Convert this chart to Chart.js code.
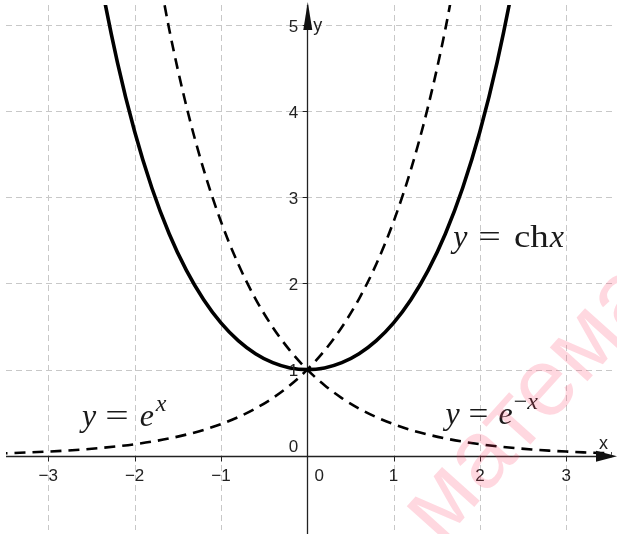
<!DOCTYPE html>
<html>
<head>
<meta charset="utf-8">
<script src="https://cdn.jsdelivr.net/npm/chart.js@4.4.0/dist/chart.umd.min.js"></script>
<style>
  body { margin: 0; background: #fff; }
  #wrap { width: 617px; height: 534px; position: relative; }
</style>
</head>
<body>
<div id="wrap"><canvas id="chart"></canvas></div>
<script>
// values
const expX = [-3.6, -3.4, -3.2, -3.0, -2.8, -2.6, -2.4, -2.2, -2.0, -1.8, -1.6, -1.4, -1.2, -1.0,
  -0.8, -0.6, -0.4, -0.2, 0, 0.2, 0.4, 0.6, 0.8, 1.0, 1.2, 1.4, 1.6, 1.8];
const expY = [0.027, 0.033, 0.041, 0.050, 0.061, 0.074, 0.091, 0.111, 0.135, 0.165, 0.202, 0.247,
  0.301, 0.368, 0.449, 0.549, 0.670, 0.819, 1.0, 1.221, 1.492, 1.822, 2.226, 2.718, 3.320, 4.055, 4.953, 6.050];

const expNegX = [-1.8, -1.6, -1.4, -1.2, -1.0, -0.8, -0.6, -0.4, -0.2, 0, 0.2, 0.4, 0.6, 0.8, 1.0,
  1.2, 1.4, 1.6, 1.8, 2.0, 2.2, 2.4, 2.6, 2.8, 3.0, 3.2, 3.4, 3.6];
const expNegY = [6.050, 4.953, 4.055, 3.320, 2.718, 2.226, 1.822, 1.492, 1.221, 1.0, 0.819, 0.670,
  0.549, 0.449, 0.368, 0.301, 0.247, 0.202, 0.165, 0.135, 0.111, 0.091, 0.074, 0.061, 0.050, 0.041, 0.033, 0.027];

const chX = [-2.6, -2.4, -2.2, -2.0, -1.8, -1.6, -1.4, -1.2, -1.0, -0.8, -0.6, -0.4, -0.2, 0,
  0.2, 0.4, 0.6, 0.8, 1.0, 1.2, 1.4, 1.6, 1.8, 2.0, 2.2, 2.4, 2.6];
const chY = [6.769, 5.557, 4.568, 3.762, 3.107, 2.577, 2.151, 1.811, 1.543, 1.337, 1.185, 1.081, 1.020, 1.0,
  1.020, 1.081, 1.185, 1.337, 1.543, 1.811, 2.151, 2.577, 3.107, 3.762, 4.568, 5.557, 6.769];

const xTicks = [-3, -2, -1, 1, 2, 3];
const yTicks = [1, 2, 3, 4, 5];
const xTickLabels = ["\u22123", "\u22122", "\u22121", "1", "2", "3"];
const yTickLabels = ["1", "2", "3", "4", "5"];

const toPts = (xs, ys) => xs.map((x, i) => ({ x: x, y: ys[i] }));

const SANS = '"Liberation Sans", Arial, sans-serif';
const SERIF = '"Liberation Serif", "Times New Roman", serif';

// draws a formula piece by piece (italic letters, upright operators, superscripts)
function drawMath(ctx, parts, x, y) {
  let cx = x;
  parts.forEach((p) => {
    const k = p.sx || 1;
    ctx.font = p.font;
    ctx.save();
    ctx.translate(cx, y - (p.up || 0));
    ctx.scale(k, 1);
    ctx.fillText(p.t, 0, 0);
    ctx.restore();
    cx += ctx.measureText(p.t).width * k + (p.post || 0);
  });
}

// grid, axes, labels
const axesPlugin = {
  id: "axes",
  beforeDatasetsDraw(chart) {
    const { ctx, chartArea: a, scales } = chart;
    const sx = scales.x, sy = scales.y;
    ctx.save();
    ctx.strokeStyle = "#c8c8c8";
    ctx.lineWidth = 1;
    ctx.setLineDash([6, 4]);
    xTicks.forEach((v) => {
      const px = Math.round(sx.getPixelForValue(v)) + 0.5;
      ctx.beginPath(); ctx.moveTo(px, a.top); ctx.lineTo(px, a.bottom); ctx.stroke();
    });
    yTicks.forEach((v) => {
      const py = Math.round(sy.getPixelForValue(v)) + 0.5;
      ctx.beginPath(); ctx.moveTo(a.left, py); ctx.lineTo(a.right, py); ctx.stroke();
    });
    ctx.setLineDash([]);

    // axes
    const x0 = Math.round(sx.getPixelForValue(0)) + 0.5;
    const y0 = Math.round(sy.getPixelForValue(0)) + 0.5;
    ctx.strokeStyle = "#222";
    ctx.lineWidth = 1.3;
    ctx.beginPath(); ctx.moveTo(a.left, y0); ctx.lineTo(a.right, y0); ctx.stroke();
    ctx.beginPath(); ctx.moveTo(x0, a.bottom + 4); ctx.lineTo(x0, a.top); ctx.stroke();

    // tick marks
    ctx.lineWidth = 1;
    xTicks.forEach((v) => {
      const px = Math.round(sx.getPixelForValue(v)) + 0.5;
      ctx.beginPath(); ctx.moveTo(px, y0); ctx.lineTo(px, y0 + 5); ctx.stroke();
    });
    yTicks.forEach((v) => {
      const py = Math.round(sy.getPixelForValue(v)) + 0.5;
      ctx.beginPath(); ctx.moveTo(x0 - 5, py); ctx.lineTo(x0, py); ctx.stroke();
    });
    ctx.restore();
  },
  afterDraw(chart) {
    const { ctx, scales } = chart;
    const sx = scales.x, sy = scales.y;
    const x0 = sx.getPixelForValue(0), y0 = sy.getPixelForValue(0);
    ctx.save();

    // arrows
    ctx.fillStyle = "#111";
    ctx.beginPath();
    ctx.moveTo(617, y0 + 0.5); ctx.lineTo(596, y0 - 5); ctx.lineTo(596, y0 + 6); ctx.closePath(); ctx.fill();
    ctx.beginPath();
    ctx.moveTo(x0 + 0.5, 2); ctx.lineTo(x0 - 4, 30); ctx.lineTo(x0 + 5, 30); ctx.closePath(); ctx.fill();

    // tick labels
    ctx.fillStyle = "#222";
    ctx.font = "17px " + SANS;
    ctx.textAlign = "center";
    ctx.textBaseline = "middle";
    xTicks.forEach((v, i) => {
      ctx.fillText(xTickLabels[i], sx.getPixelForValue(v), y0 + 20);
    });
    ctx.fillText("0", x0 + 12, y0 + 20);
    ctx.textAlign = "right";
    yTicks.forEach((v, i) => {
      ctx.fillText(yTickLabels[i], x0 - 9, sy.getPixelForValue(v) + 2);
    });
    ctx.fillText("0", x0 - 9, y0 - 9);

    // axis names
    ctx.textAlign = "left";
    ctx.font = "18px " + SANS;
    ctx.fillText("y", x0 + 6, 26);
    ctx.fillText("x", 599, y0 - 12);

    // curve labels
    ctx.fillStyle = "#1a1a1a";
    ctx.textBaseline = "alphabetic";
    const it = "italic 32px " + SERIF, rm = "32px " + SERIF;
    const sup = "italic 24px " + SERIF, supRm = "24px " + SERIF;
    drawMath(ctx, [
      { t: "y", font: it, post: 11 },
      { t: "=", font: rm, sx: 1.25, post: 13 },
      { t: "ch", font: rm, sx: 1.15, post: 1 },
      { t: "x", font: it }
    ], sx.getPixelForValue(1.69), sy.getPixelForValue(2.42));
    drawMath(ctx, [
      { t: "y", font: it, post: 9 },
      { t: "=", font: rm, sx: 1.3, post: 11 },
      { t: "e", font: it, post: 2 },
      { t: "x", font: sup, up: 15 }
    ], sx.getPixelForValue(-2.61), sy.getPixelForValue(0.35));
    drawMath(ctx, [
      { t: "y", font: it, post: 9 },
      { t: "=", font: rm, sx: 1.1, post: 10 },
      { t: "e", font: it, post: 1 },
      { t: "\u2212", font: supRm, up: 15, post: 0 },
      { t: "x", font: sup, up: 15 }
    ], sx.getPixelForValue(1.6), sy.getPixelForValue(0.37));

    // watermark
    ctx.translate(440, 545);
    ctx.rotate(-48 * Math.PI / 180);
    ctx.font = "96px " + SANS;
    ctx.fillStyle = "rgba(255, 60, 100, 0.2)";
    ctx.fillText("математика", 0, 0);
    ctx.restore();
  }
};

const ctx = document.getElementById("chart").getContext("2d");
new Chart(ctx, {
  type: "scatter",
  data: {
    datasets: [
      {
        label: "ch x",
        data: toPts(chX, chY),
        showLine: true,
        borderColor: "#000",
        borderWidth: 3.6,
        pointRadius: 0,
        cubicInterpolationMode: "monotone",
      },
      {
        label: "e^x",
        data: toPts(expX, expY),
        showLine: true,
        borderColor: "#000",
        borderWidth: 2.6,
        borderDash: [11, 7],
        pointRadius: 0,
        cubicInterpolationMode: "monotone",
      },
      {
        label: "e^-x",
        data: toPts(expNegX, expNegY),
        showLine: true,
        borderColor: "#000",
        borderWidth: 2.6,
        borderDash: [11, 7],
        pointRadius: 0,
        cubicInterpolationMode: "monotone",
      },
    ],
  },
  options: {
    responsive: true,
    maintainAspectRatio: false,
    animation: false,
    layout: { padding: { left: 6, right: 5, top: 5, bottom: 4 } },
    plugins: { legend: { display: false }, tooltip: { enabled: false } },
    scales: {
      x: { type: "linear", min: -3.49, max: 3.53, display: false },
      y: { type: "linear", min: -0.86, max: 5.23, display: false },
    },
  },
  plugins: [axesPlugin],
});
</script>
</body>
</html>
